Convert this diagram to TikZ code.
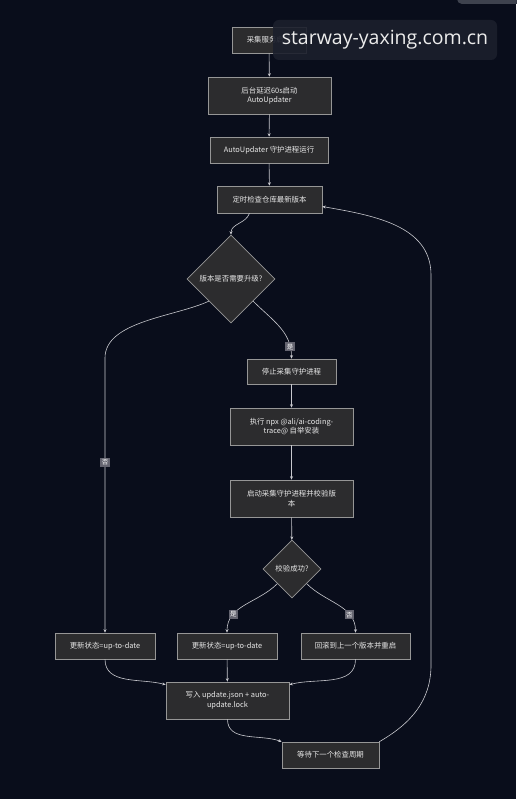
\documentclass[tikz,border=0pt]{standalone}
\usepackage{fontspec}
\setmainfont{Noto Sans CJK SC}
\newfontfamily\wmfont{Open Sans}
\usepackage{tikz}
\usetikzlibrary{arrows.meta, positioning, shapes.geometric, calc}
\definecolor{fcbg}{RGB}{9,13,27}
\definecolor{fcnode}{RGB}{44,44,46}
\definecolor{fcborder}{RGB}{150,150,150}
\definecolor{fcline}{RGB}{200,200,206}
\definecolor{fctext}{RGB}{232,232,232}
\definecolor{fclabel}{RGB}{100,100,112}
\definecolor{wmbox}{RGB}{27,31,44}
\definecolor{wmcorner}{RGB}{62,66,78}

\begin{document}
\begin{tikzpicture}[x=1pt, y=1pt, every node/.style={font=\fontsize{7.4}{9.5}\selectfont, text=fctext},
  box/.style={draw=fcborder, fill=fcnode, line width=0.6pt, minimum height=26pt,
              align=center, inner sep=2pt},
  tallbox/.style={box, minimum height=37pt},
  decision/.style={diamond, draw=fcborder, fill=fcnode, line width=0.6pt,
                   inner sep=0pt, align=center},
  flow/.style={->, >={Stealth[length=3.5pt, width=3pt]}, line width=0.6pt, fcline},
  elabel/.style={fill=fclabel, font=\fontsize{6.5}{7}\selectfont, inner sep=1.5pt, text=white}]
  % Background
  \fill[fcbg] (0,0) rectangle (516,-799);
  \useasboundingbox (0,0) rectangle (516,-799);

  % Main column
  \node[box, minimum width=74pt] (start) at (269,-40) {采集服务启动};
  \node[tallbox, minimum width=123pt] (delay) at (269.5,-95.5) {后台延迟60s启动\\AutoUpdater};
  \node[box, minimum width=118pt] (daemon) at (269,-150) {AutoUpdater 守护进程运行};
  \node[box, minimum width=105pt, minimum height=27pt] (check) at (269.5,-199.5) {定时检查仓库最新版本};
  \node[decision, minimum width=88pt, minimum height=88pt] (needup) at (231,-279) {版本是否需要升级?};

  % Upgrade branch
  \node[box, minimum width=89pt, minimum height=25pt] (stop) at (291.5,-371.5) {停止采集守护进程};
  \node[tallbox, minimum width=123pt] (install) at (291.5,-426.5) {执行 npx @ali/ai-coding-\\trace@ 自举安装};
  \node[tallbox, minimum width=123pt] (restart) at (291.5,-498.5) {启动采集守护进程并校验版\\本};
  \node[decision, minimum width=58pt, minimum height=58pt] (verify) at (292,-569) {校验成功?};

  % Results
  \node[box, minimum width=100pt] (uptodate) at (105,-646) {更新状态=up-to-date};
  \node[box, minimum width=100pt] (updated) at (227,-646) {更新状态=up-to-date};
  \node[box, minimum width=109pt] (rollback) at (355.5,-646) {回滚到上一个版本并重启};
  \node[tallbox, minimum width=123pt] (write) at (227.5,-700.5) {写入 update.json + auto-\\update.lock};
  \node[box, minimum width=97pt] (wait) at (330.5,-755) {等待下一个检查周期};

  % Bends
  \coordinate (noleft) at (105,-358);
  \coordinate (loopbot) at (431,-665);
  \coordinate (looptop) at (431,-275);

  % Arrows
  \draw[flow] (start) -- (delay);
  \draw[flow] (delay) -- (daemon);
  \draw[flow] (daemon) -- (check);
  \draw[flow] ($(check.south)+(-20,0)$) to[out=-110, in=90] (needup.north);
  \draw[flow] (needup.south west) to[out=205, in=90, looseness=0.8] (noleft)
    -- node[elabel, pos=0.38] {否} (uptodate.north);
  \draw[flow] (needup.south east) to[out=-45, in=90] node[elabel, pos=0.84] {是} (stop.north);
  \draw[flow] (stop) -- (install);
  \draw[flow] (install) -- (restart);
  \draw[flow] (restart) -- (verify);
  \draw[flow] (verify.south west) to[out=-135, in=90] node[elabel, pos=0.72] {是} (updated.north);
  \draw[flow] (verify.south east) to[out=-45, in=90] node[elabel, pos=0.72] {否} (rollback.north);
  \draw[flow] (uptodate.south) to[out=-90, in=165] ($(write.north west)+(0,-3)$);
  \draw[flow] (updated) -- (write);
  \draw[flow] (rollback.south) to[out=-90, in=15] ($(write.north east)+(0,-3)$);
  \draw[flow] (write.south) to[out=-90, in=160] (wait.north west);
  \draw[flow] (wait.north east) to[out=30, in=-90] (loopbot) -- (looptop)
    to[out=90, in=-10] ($(check.east)+(0,-7)$);

  % Watermark
  \fill[wmcorner, rounded corners=5pt] (457,10) rectangle (530,-4);
  \node[fill=wmbox, fill opacity=0.9, text opacity=1, rounded corners=6pt,
    minimum width=224pt, minimum height=40pt, text={rgb,255:red,236;green,236;blue,236},
    font=\wmfont\fontsize{19.5}{22}\selectfont] (wmark) at (385,-40) {starway-yaxing.com.cn};
\end{tikzpicture}
\end{document}
